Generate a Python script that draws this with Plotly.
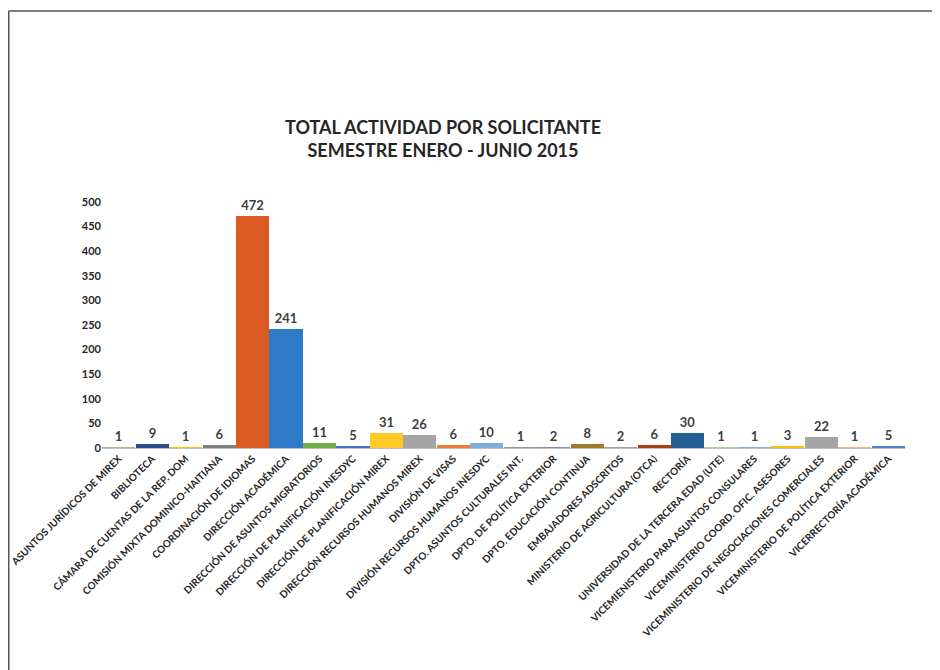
import plotly.graph_objects as go

categories = [
    "ASUNTOS JURÍDICOS DE MIREX",
    "BIBLIOTECA",
    "CÁMARA DE CUENTAS DE LA REP. DOM",
    "COMISIÓN MIXTA DOMINICO-HAITIANA",
    "COORDINACIÓN DE IDIOMAS",
    "DIRECCIÓN ACADÉMICA",
    "DIRECCIÓN DE ASUNTOS MIGRATORIOS",
    "DIRECCIÓN DE PLANIFICACIÓN INESDYC",
    "DIRECCIÓN DE PLANIFICACIÓN MIREX",
    "DIRECCIÓN RECURSOS HUMANOS MIREX",
    "DIVISIÓN DE VISAS",
    "DIVISIÓN RECURSOS HUMANOS INESDYC",
    "DPTO. ASUNTOS CULTURALES INT.",
    "DPTO. DE POLÍTICA EXTERIOR",
    "DPTO. EDUCACIÓN CONTINUA",
    "EMBAJADORES ADSCRITOS",
    "MINISTERIO DE AGRICULTURA (OTCA)",
    "RECTORÍA",
    "UNIVERSIDAD DE LA TERCERA EDAD (UTE)",
    "VICEMIENISTERIO PARA ASUNTOS CONSULARES",
    "VICEMINISTERIO COORD. OFIC. ASESORES",
    "VICEMINISTERIO DE NEGOCIACIONES COMERCIALES",
    "VICEMINISTERIO DE POLÍTICA EXTERIOR",
    "VICERRECTORÍA ACADÉMICA",
]
values = [1, 9, 1, 6, 472, 241, 11, 5, 31, 26, 6, 10, 1, 2, 8, 2, 6, 30, 1, 1, 3, 22, 1, 5]
colors = [
    "#A9B68F", "#2B4D8C", "#FFC000", "#7F7F7F", "#DB5A23", "#2F7AC6",
    "#70AD47", "#4472C4", "#FFC928", "#A5A5A5", "#ED7D31", "#7CAFDD",
    "#8E9AA6", "#7F8FB0", "#9E7A2A", "#A0A0A0", "#A8401A", "#255E91",
    "#A9D18E", "#8FAADC", "#FFC000", "#A5A5A5", "#F4B183", "#4A86D0",
]
title_lines = ["TOTAL ACTIVIDAD POR SOLICITANTE", "SEMESTRE ENERO - JUNIO 2015"]
y_ticks = [0, 50, 100, 150, 200, 250, 300, 350, 400, 450, 500]

# page has an 8px body margin; figure sized to fit the window
W, H = 932, 662
L, T = 94, 194
pw, ph = 803, 246
R, B = W - L - pw, H - T - ph

def px_x(px):
    return (px - L) / pw

def px_y(py):
    return (H - B - py) / ph

fig = go.Figure(go.Bar(
    x=categories,
    y=values,
    marker=dict(color=colors, line=dict(width=0)),
    text=[str(v) for v in values],
    textposition="outside",
    textfont=dict(family="Lato", size=13, color="#404040", weight="bold"),
    cliponaxis=False,
    width=0.99,
))

fig.update_layout(
    width=W, height=H,
    margin=dict(l=L, r=R, t=T, b=B),
    paper_bgcolor="white",
    plot_bgcolor="white",
    showlegend=False,
    bargap=0,
    title=dict(
        text="<br>".join(title_lines),
        font=dict(family="Lato", size=18, color="#262626", weight="bold"),
        x=435 / W, xref="container", xanchor="center",
        y=1 - 126 / H, yref="container", yanchor="middle",
    ),
    shapes=[
        dict(type="line", xref="paper", yref="paper",
             x0=px_x(0.75), x1=px_x(W + 5), y0=px_y(3), y1=px_y(3),
             line=dict(color="#555555", width=1.5)),
        dict(type="line", xref="paper", yref="paper",
             x0=px_x(0.75), x1=px_x(0.75), y0=px_y(3), y1=px_y(H + 5),
             line=dict(color="#555555", width=1.5)),
    ],
)

fig.update_xaxes(
    tickangle=-45,
    tickfont=dict(family="Lato", size=10, color="#262626", weight="bold"),
    showline=True, linecolor="#BFBFBF", linewidth=1,
    showgrid=False, ticks="", automargin=False,
)
fig.update_yaxes(
    range=[0, 500],
    tickvals=y_ticks,
    tickfont=dict(family="Lato", size=11, color="#262626", weight="bold"),
    showgrid=False, zeroline=False, showline=False, ticks="",
    automargin=False,
)

fig.write_html("out.html")
